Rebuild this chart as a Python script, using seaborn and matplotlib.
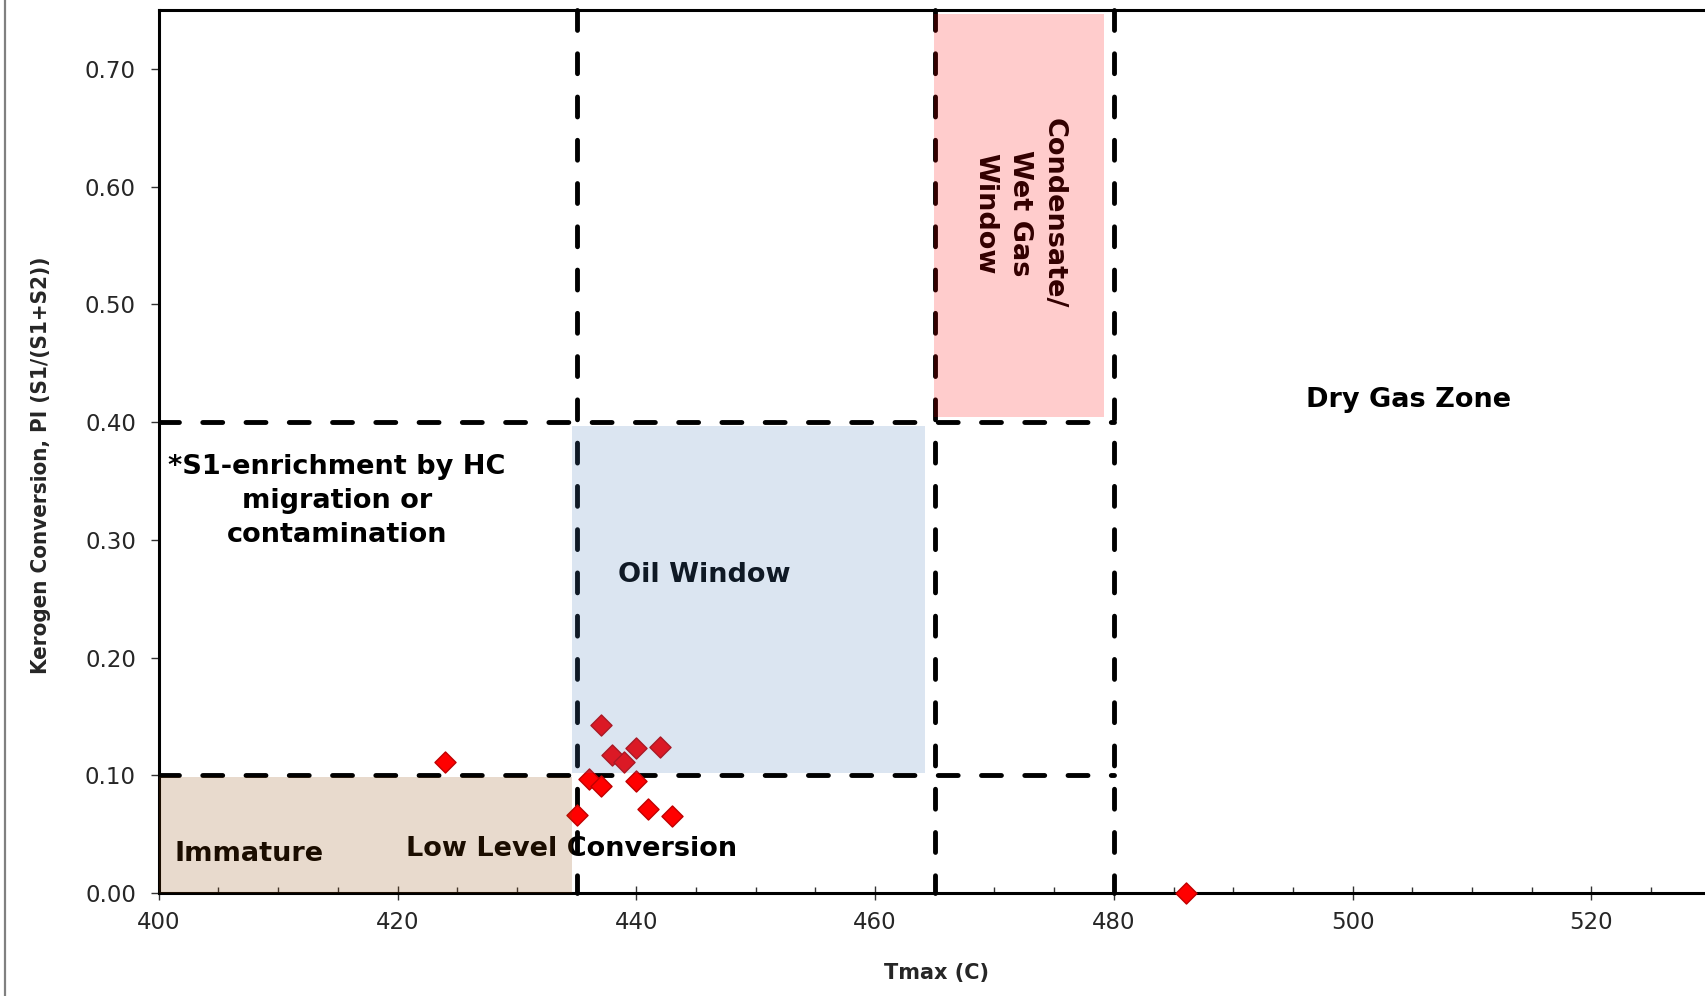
import numpy as np
import pandas as pd
import matplotlib
matplotlib.use("Agg")
import matplotlib.pyplot as plt
from matplotlib.patches import Rectangle
from matplotlib.lines import Line2D
from matplotlib.ticker import MultipleLocator, FixedLocator
from matplotlib import font_manager as fm
import seaborn as sns

# ---------------- data ----------------
tmax = [424, 437, 438, 439, 440, 442, 436, 437, 440, 435, 441, 443, 486]
pi_vals = [0.111, 0.143, 0.117, 0.111, 0.123, 0.124, 0.097, 0.091, 0.095,
           0.066, 0.071, 0.065, 0.0]

xticks = [400, 420, 440, 460, 480, 500, 520]
yticks = [0.0, 0.1, 0.2, 0.3, 0.4, 0.5, 0.6, 0.7]
ytick_labels = ["0.00", "0.10", "0.20", "0.30", "0.40", "0.50", "0.60", "0.70"]

boundary_tmax = [435, 465, 480]
boundary_pi = [0.1, 0.4]

region_x0 = [400, 434.6, 464.9]
region_x1 = [434.6, 464.2, 479.2]
region_y0 = [0.0, 0.102, 0.404]
region_y1 = [0.0987, 0.397, 0.747]
region_colors = ["#8C4605", "#4F81BD", "#FF0000"]

label_texts = ["Immature", "Low Level Conversion", "Oil Window",
               "*S1-enrichment by HC\nmigration or\ncontamination",
               "Dry Gas Zone", "Condensate/\nWet Gas\nWindow"]
label_x = [401.3, 434.6, 445.7, 414.9, 504.7, 472.1]
label_y = [0.0334, 0.0371, 0.270, 0.333, 0.4185, 0.577]

df = pd.DataFrame({"Tmax": tmax, "PI": pi_vals})

# ---------------- style ----------------
sns.set_theme(style="white")
plt.rcParams["font.family"] = ["DejaVu Sans"]

fig = plt.figure(figsize=(17.05, 9.96), dpi=100)
ax = fig.add_axes([158.8 / 1705, 103 / 996, 1552 / 1705, 883 / 996])
ax.set_xlim(400, 530)
ax.set_ylim(0, 0.75)

# dashed boundaries
dash = (0, (4.1, 4.8))
for xv in boundary_tmax:
    ax.plot([xv, xv], [0.75, 0.0], color="black", lw=3.5, linestyle=dash,
            dash_capstyle="round", zorder=2, clip_on=False)
for yv in boundary_pi:
    ax.plot([400, boundary_tmax[-1]], [yv, yv], color="black", lw=3.5,
            linestyle=dash, dash_capstyle="round", zorder=2)

# points
sns.scatterplot(data=df, x="Tmax", y="PI", marker="D", s=115, color="#FF0000",
                edgecolor="#C00000", linewidth=1.0, ax=ax, zorder=4,
                clip_on=False, legend=False)

# text labels
for i, (t, xx, yy) in enumerate(zip(label_texts, label_x, label_y)):
    ha = "left" if i == 0 else "center"
    rot = -90 if t.startswith("Condensate") else 0
    ax.text(xx, yy, t, ha=ha, va="center", rotation=rot, fontsize=19.5,
            fontweight="bold", color="black", linespacing=1.42,
            multialignment="center", zorder=3)

# translucent regions on top
for x0, x1, y0, y1, c in zip(region_x0, region_x1, region_y0, region_y1, region_colors):
    ax.add_patch(Rectangle((x0, y0), x1 - x0, y1 - y0, facecolor=c, alpha=0.2,
                           edgecolor="none", zorder=6, clip_on=False))

# axes styling
for sp in ax.spines.values():
    sp.set_linewidth(2.2)
    sp.set_color("black")

ax.xaxis.set_major_locator(FixedLocator(xticks))
ax.set_xticklabels([str(v) for v in xticks])
ax.xaxis.set_minor_locator(MultipleLocator(5))
ax.set_yticks(yticks)
ax.set_yticklabels(ytick_labels)

ax.tick_params(axis="x", which="major", direction="inout", length=10, width=1,
               color="#333333", labelsize=16.5, pad=8, bottom=True)
ax.tick_params(axis="x", which="minor", direction="in", length=4, width=1,
               color="#333333", bottom=True)
ax.tick_params(axis="y", which="major", direction="out", length=5.5, width=1,
               color="#333333", labelsize=16.5, pad=11, left=True)
ax.tick_params(axis="y", which="minor", left=False)
ax.grid(False)

ax.set_xlabel("Tmax (C)", fontsize=15, fontweight="bold")
ax.xaxis.set_label_coords((936 - 158.8) / 1552, -70 / 883)

fp = fm.FontProperties(family="DejaVu Sans", stretch="condensed", weight="bold")
try:
    cond = "condensed" in fm.findfont(fp, fallback_to_default=False).lower()
except Exception:
    cond = False
if cond:
    ax.set_ylabel("Kerogen Conversion, PI (S1/(S1+S2))", fontsize=16,
                  fontweight="bold", fontstretch="condensed")
else:
    ax.set_ylabel("Kerogen Conversion, PI (S1/(S1+S2))", fontsize=14.4,
                  fontweight="bold")
ax.yaxis.set_label_coords((51 - 158.8) / 1552, (893 - 465.4) / 883)

# left gray frame border
fig.add_artist(Line2D([5 / 1705, 5 / 1705], [0, 1], color="#808080", lw=1.6,
                      transform=fig.transFigure))

fig.savefig("out.png", dpi=100)
